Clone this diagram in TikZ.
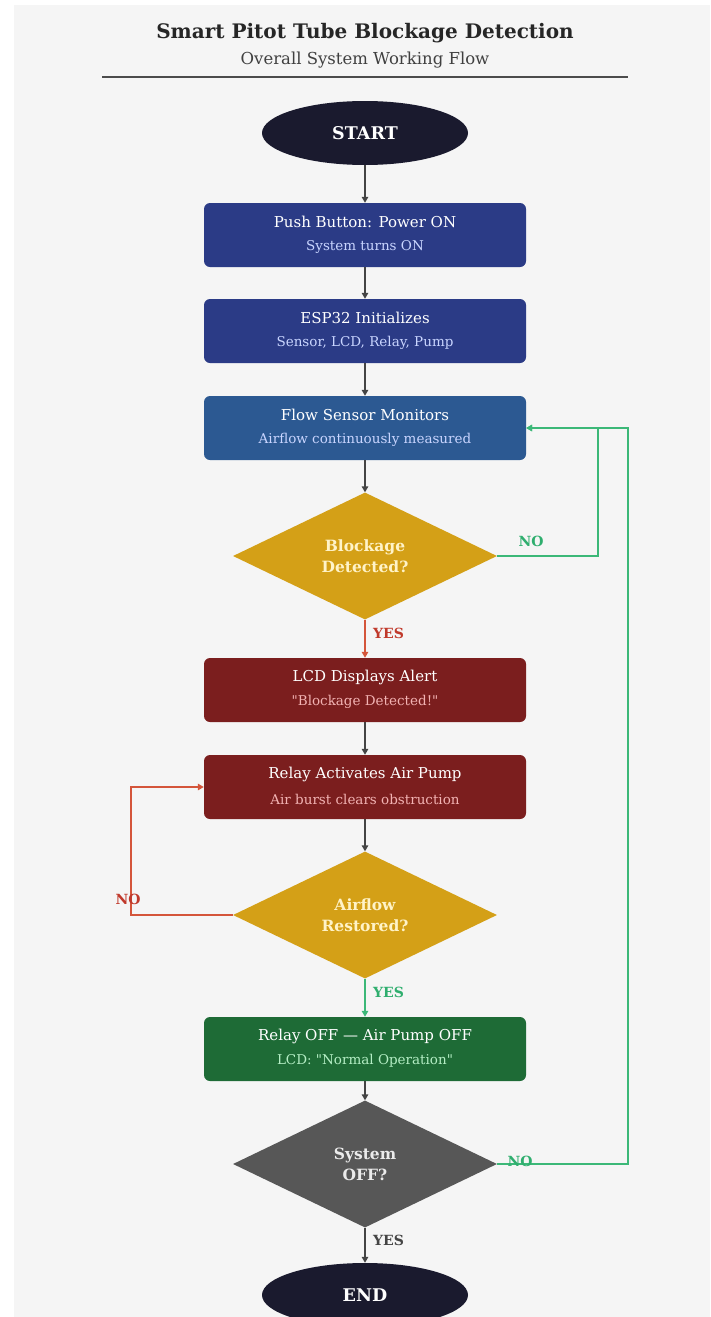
\documentclass[tikz,border=0pt]{standalone}
\usepackage{fontspec}
\setmainfont{DejaVu Serif}
\usetikzlibrary{shapes.geometric,arrows.meta,calc}
\definecolor{bg}{HTML}{F5F5F5}
\definecolor{navy}{HTML}{1A1A2E}
\definecolor{boxblue}{HTML}{2B3B86}
\definecolor{boxsteel}{HTML}{2C5992}
\definecolor{boxred}{HTML}{7B1E1E}
\definecolor{boxgreen}{HTML}{1E6B36}
\definecolor{gold}{HTML}{D4A017}
\definecolor{slate}{HTML}{575757}
\definecolor{linegray}{HTML}{444444}
\definecolor{linegreen}{HTML}{3CB878}
\definecolor{linered}{HTML}{D4553A}
\definecolor{labred}{HTML}{C0392B}
\definecolor{labgreen}{HTML}{2FAE6E}
\definecolor{subblue}{HTML}{C9D5FF}
\definecolor{subred}{HTML}{F2B3B3}
\definecolor{subgreen}{HTML}{B5EEC5}
\definecolor{cream}{HTML}{FFF3C8}
\tikzset{
  terminal/.style={ellipse, fill=navy, minimum width=206pt, minimum height=64pt, inner sep=0pt,
    text=white, font=\fontsize{17.5}{20}\selectfont\bfseries},
  procbox/.style={rectangle, rounded corners=6pt, minimum width=322pt, minimum height=64pt, inner sep=0pt},
  decision/.style={diamond, minimum width=264pt, minimum height=127pt, inner sep=0pt, aspect=2.08,
    align=center, font=\fontsize{15.5}{21}\selectfont\bfseries},
  boxtitle/.style={text=white, font=\fontsize{15}{17}\selectfont},
  boxsub/.style={font=\fontsize{13.5}{15}\selectfont},
  conn/.style={draw=linegray, line width=1.5pt, -{Triangle[length=6pt,width=6.5pt]}},
  gconn/.style={draw=linegreen, line width=1.5pt, -{Triangle[length=6pt,width=6.5pt]}},
  rconn/.style={draw=linered, line width=1.5pt, -{Triangle[length=6pt,width=6.5pt]}},
  glabel/.style={text=labgreen, font=\fontsize{14}{16}\selectfont\bfseries},
  rlabel/.style={text=labred, font=\fontsize{14}{16}\selectfont\bfseries},
  klabel/.style={text=linegray, font=\fontsize{14}{16}\selectfont\bfseries},
}
\begin{document}
\begin{tikzpicture}[x=1pt,y=-1pt]
\useasboundingbox (0,0) rectangle (710,1317);
\clip (0,0) rectangle (710,1317);
\fill[white] (0,0) rectangle (710,1317);
\fill[bg] (14,5) rectangle (710,1317);
% title
\node[font=\fontsize{20}{24}\selectfont\bfseries, text=black!85] (title) at (365,33) {Smart Pitot Tube Blockage Detection};
\node[font=\fontsize{16.5}{19}\selectfont, text=black!75] (subtitle) at (365,60) {Overall System Working Flow};
\coordinate (rl) at (102,77);
\coordinate (rr) at (628,77);
\draw[black!70, line width=1.2pt] (rl) -- (rr);
% nodes
\node[terminal] (start) at (365,133) {START};
\node[procbox, fill=boxblue] (b1) at (365,235) {};
\node[boxtitle] (b1t) at (365,222) {Push Button: Power ON};
\node[boxsub, text=subblue] (b1s) at (365,247) {System turns ON};
\node[procbox, fill=boxblue] (b2) at (365,331) {};
\node[boxtitle] (b2t) at (365,318) {ESP32 Initializes};
\node[boxsub, text=subblue] (b2s) at (365,343) {Sensor, LCD, Relay, Pump};
\node[procbox, fill=boxsteel] (b3) at (365,428) {};
\node[boxtitle] (b3t) at (365,415) {Flow Sensor Monitors};
\node[boxsub, text=subblue] (b3s) at (365,440) {Airflow continuously measured};
\node[decision, fill=gold, text=cream] (d1) at (365,556) {Blockage\\Detected?};
\node[procbox, fill=boxred] (b4) at (365,690) {};
\node[boxtitle] (b4t) at (365,677) {LCD Displays Alert};
\node[boxsub, text=subred] (b4s) at (365,702) {\textquotedbl Blockage Detected!\textquotedbl};
\node[procbox, fill=boxred] (b5) at (365,787) {};
\node[boxtitle] (b5t) at (365,774) {Relay Activates Air Pump};
\node[boxsub, text=subred] (b5s) at (365,799) {Air burst clears obstruction};
\node[decision, fill=gold, text=cream] (d2) at (365,915) {Airflow\\Restored?};
\node[procbox, fill=boxgreen] (b6) at (365,1049) {};
\node[boxtitle] (b6t) at (365,1036) {Relay OFF — Air Pump OFF};
\node[boxsub, text=subgreen] (b6s) at (365,1061) {LCD: \textquotedbl Normal Operation\textquotedbl};
\node[decision, fill=slate, text=white!92!black] (d3) at (365,1164) {System\\OFF?};
\node[terminal] (end) at (365,1295) {END};
% connectors
\draw[conn] (start) -- (b1);
\draw[conn] (b1) -- (b2);
\draw[conn] (b2) -- (b3);
\draw[conn] (b3) -- (d1);
\draw[rconn] (d1) -- node[rlabel, right=4pt, pos=0.35] (yes1) {YES} (b4);
\draw[conn] (b4) -- (b5);
\draw[conn] (b5) -- (d2);
\draw[gconn] (d2) -- node[glabel, right=4pt, pos=0.35] (yes2) {YES} (b6);
\draw[conn] (b6) -- (d3);
\draw[conn] (d3) -- node[klabel, right=4pt, pos=0.35] (yes3) {YES} (end);
\coordinate (j1) at (598,428);
\coordinate (j2) at (628,428);
\coordinate (j3) at (131,787);
\draw[gconn] (d1.east) -| (j1) -- (b3.east);
\node[glabel] (no1) at (531,541) {NO};
\draw[gconn] (d3.east) -| (j2) -- (b3.east);
\node[glabel] (no3) at (520,1161) {NO};
\draw[rconn] (d2.west) -| (j3) -- (b5.west);
\node[rlabel] (no2) at (128,899) {NO};
\end{tikzpicture}
\end{document}
